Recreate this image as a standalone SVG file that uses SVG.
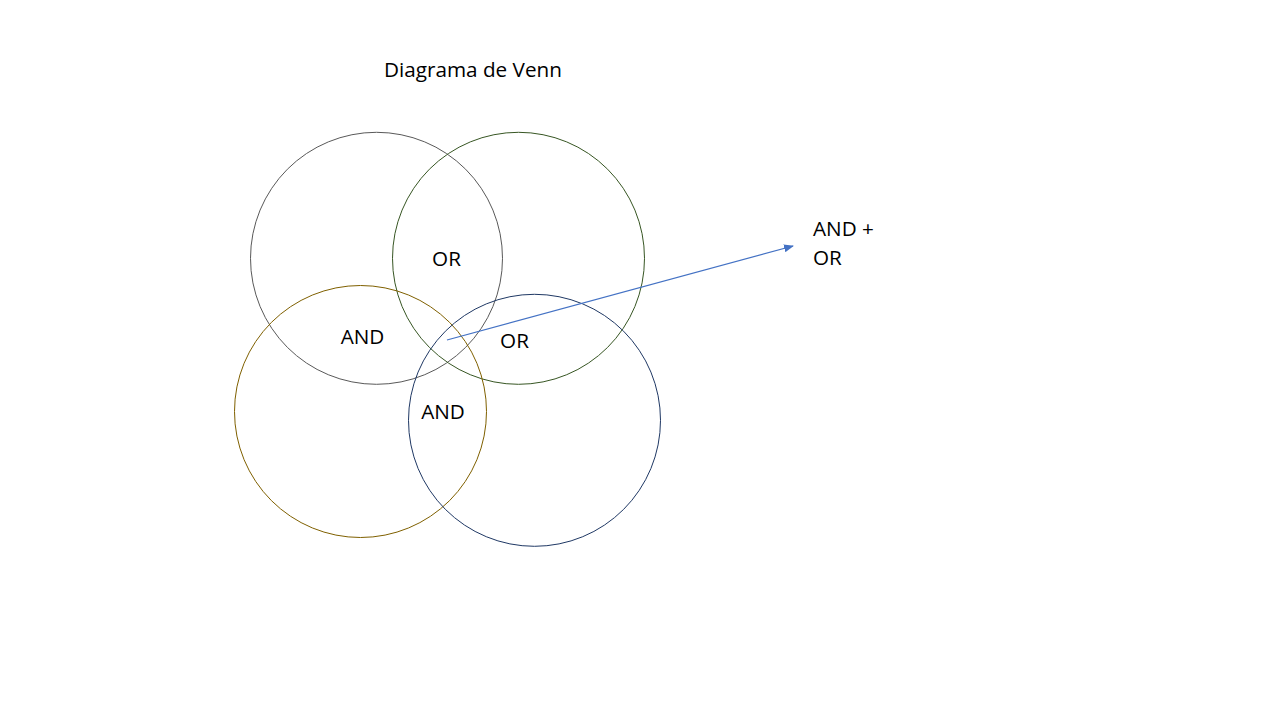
<svg xmlns="http://www.w3.org/2000/svg" width="1280" height="720" viewBox="0 0 1280 720">
<style>
text{font-family:"Open Sans","Noto Sans","Liberation Sans",sans-serif;font-size:20.7px;fill:#000}
.c{fill:none;stroke-width:1}
</style>
<defs>
<marker id="ah" markerWidth="10" markerHeight="8" refX="9" refY="4" orient="auto" markerUnits="userSpaceOnUse">
<path d="M0,0 L10,4 L0,8 Z" fill="#4472c4"/>
</marker>
</defs>
<rect width="1280" height="720" fill="#fff"/>
<g id="title"><text x="384" y="77">Diagrama de Venn</text></g>
<g id="circle-a"><circle class="c" cx="376.5" cy="258.3" r="126" stroke="#595959"/></g>
<g id="circle-b"><circle class="c" cx="518.5" cy="258.3" r="126" stroke="#375623"/></g>
<g id="circle-c"><circle class="c" cx="360.5" cy="411.5" r="126" stroke="#7f6000"/></g>
<g id="circle-d"><circle class="c" cx="534.5" cy="420.3" r="126" stroke="#1f3864"/></g>
<g id="labels">
<text x="446.5" y="266" text-anchor="middle">OR</text>
<text x="362.5" y="344" text-anchor="middle">AND</text>
<text x="514.5" y="348" text-anchor="middle">OR</text>
<text x="443" y="419" text-anchor="middle">AND</text>
</g>
<g id="connectors">
<line x1="447" y1="340" x2="793" y2="246" stroke="#4472c4" stroke-width="1.2" marker-end="url(#ah)"/>
</g>
<g id="result"><text x="813" y="236">AND +</text><text x="813" y="265">OR</text></g>
</svg>
